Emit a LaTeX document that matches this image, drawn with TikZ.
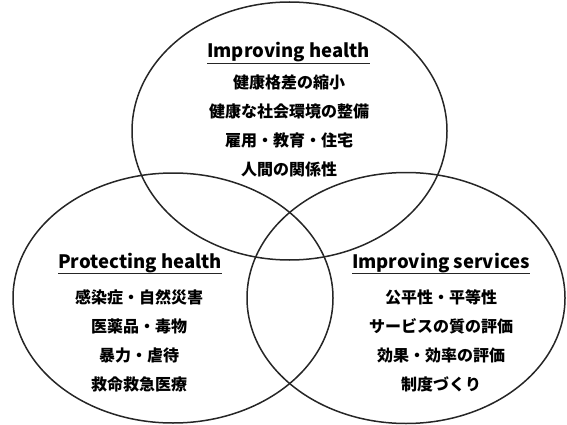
\documentclass[tikz,border=0pt]{standalone}
\usepackage{fontspec}
\setmainfont{Noto Sans CJK JP}
\usetikzlibrary{shapes.geometric,calc}
\begin{document}
\begin{tikzpicture}[x=1pt,y=-1pt,
  venn/.style={draw=black!85, line width=1.5pt, ellipse, inner sep=0pt},
  head/.style={font=\fontsize{18.5}{20}\selectfont\bfseries, anchor=base, inner xsep=0pt},
  uline/.style={fill=black!85, draw=none},
  items/.style={font=\fontsize{16}{29}\selectfont\bfseries, align=center, anchor=north}]
\useasboundingbox (0,0) rectangle (567,425);
\node[venn, minimum width=315pt, minimum height=258pt] (top) at (289.5,131) {};
\node[venn, minimum width=320pt, minimum height=250pt] (left) at (173,298) {};
\node[venn, minimum width=318pt, minimum height=251pt] (right) at (406,298) {};
\node[head] (th) at (288.5,58) {Improving health};
\path[uline] ($(th.base west)+(0,4.8)$) rectangle ($(th.base east)+(0,6.3)$);
\node[items] (ti) at (289,71.5) {健康格差の縮小\\健康な社会環境の整備\\雇用・教育・住宅\\人間の関係性};
\node[head] (lh) at (140,268) {Protecting health};
\path[uline] ($(lh.base west)+(0,4.8)$) rectangle ($(lh.base east)+(0,6.3)$);
\node[items] (li) at (139,286.5) {感染症・自然災害\\医薬品・毒物\\暴力・虐待\\救命救急医療};
\node[head] (rh) at (441,268) {Improving services};
\path[uline] ($(rh.base west)+(0,4.8)$) rectangle ($(rh.base east)+(0,6.3)$);
\node[items] (ri) at (441,286.5) {公平性・平等性\\サービスの質の評価\\効果・効率の評価\\制度づくり};
\end{tikzpicture}
\end{document}
